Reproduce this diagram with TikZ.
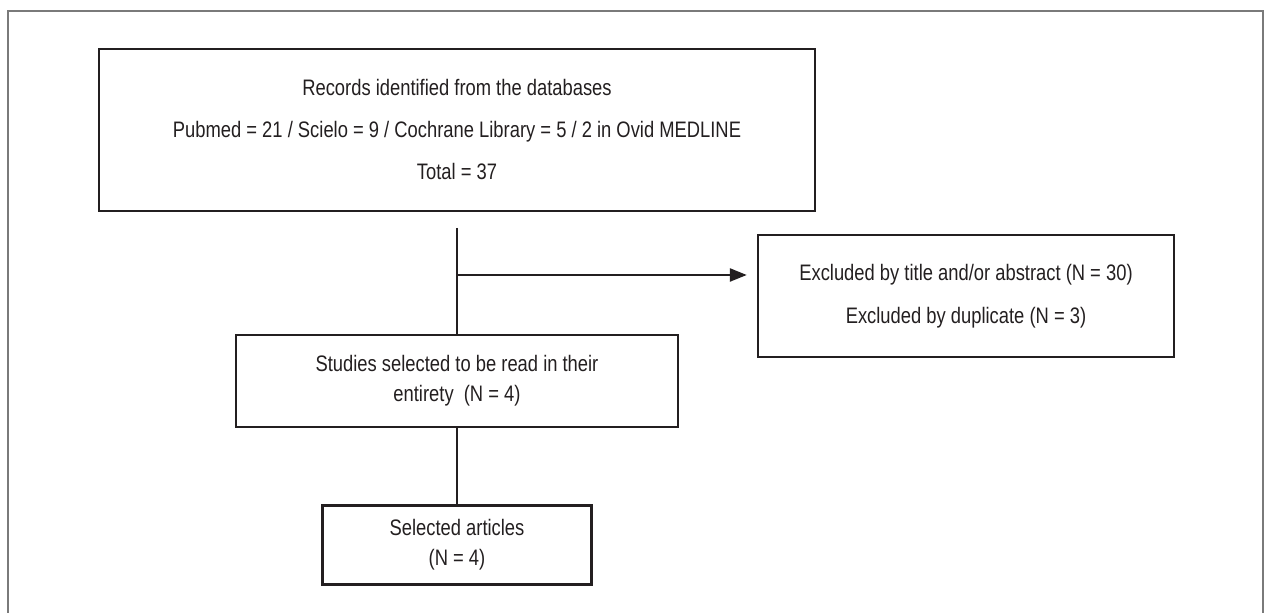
\documentclass[tikz,border=0pt]{standalone}
\usepackage{fontspec}
\setmainfont{Liberation Sans}[FakeStretch=0.82]
\usepackage{tikz}
\usetikzlibrary{arrows.meta}
\usetikzlibrary{positioning}
\definecolor{ink}{HTML}{231F20}
\definecolor{framegray}{HTML}{7A7A7A}

\begin{document}
\begin{tikzpicture}[x=0.5pt,y=-0.5pt,
      box node/.style={draw=ink,line width=1.2pt,align=center,inner sep=0pt,
        font=\fontsize{11.2}{15}\selectfont,text=ink},
      arr/.style={-{Triangle[length=8.5pt,width=6.5pt]}, draw=ink, line width=1.2pt, shorten >=5pt}]
    \useasboundingbox (0,0) rectangle (1266,613);
    \draw[framegray,line width=0.75pt] (8,613) -- (8,11) -- (1263,11) -- (1263,613);
    \node[box node,minimum width=358pt,minimum height=81pt] (rec) at (457,130)
      {Records identified from the databases\\[6pt]
       Pubmed = 21 / Scielo = 9 / Cochrane Library = 5 / 2 in Ovid MEDLINE\\[6pt]
       Total = 37};
    \node[box node,minimum width=208pt,minimum height=61pt] (excl) at (966,296)
      {Excluded by title and/or abstract (N = 30)\\[6.5pt]
       Excluded by duplicate (N = 3)};
    \node[box node,minimum width=221pt,minimum height=46pt] (read) at (457,381)
      {Studies selected to be read in their\\ entirety\ \ (N = 4)};
    \node[box node,minimum width=134.5pt,minimum height=39.5pt] (sel) at (457,545)
      {Selected articles\\ (N = 4)};
    \coordinate (split) at (457,228);
    \coordinate (branch) at (457,275);
    \draw[ink,line width=1.2pt] (split) -- (read.north);
    \draw[arr] (branch) -- (excl.west |- branch);
    \draw[ink,line width=1.2pt] (read.south) -- (sel.north);
  \end{tikzpicture}
\end{document}
